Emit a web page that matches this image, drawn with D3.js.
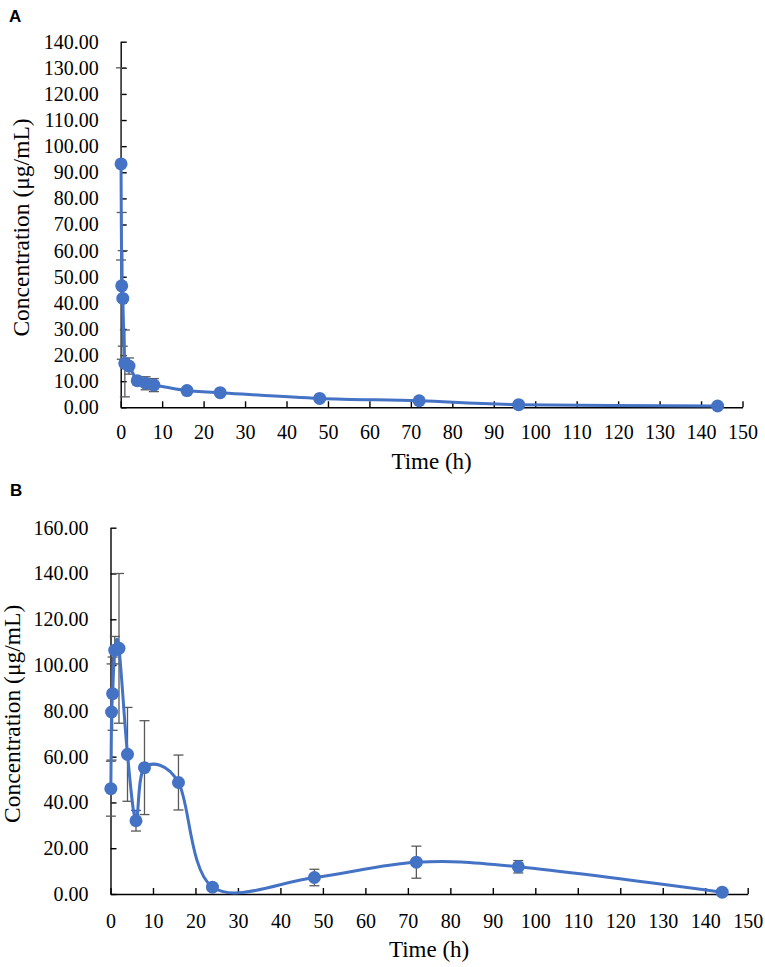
<!DOCTYPE html>
<html>
<head>
<meta charset="utf-8">
<script src="https://cdn.jsdelivr.net/npm/d3@7"></script>
<style>
body { margin: 0; background: #fff; }
</style>
</head>
<body>
<script>
// Panel A data (time h, mean, sd)
const timesA = [0.083, 0.25, 0.5, 1, 2, 4, 6, 8, 16, 24, 48, 72, 96, 144]
const meanA = [93.2, 46.5, 41.7, 16.8, 15.8, 10.2, 9.2, 8.5, 6.4, 5.6, 3.4, 2.5, 1.0, 0.5]
const sdA = [36.8, 28.1, 18.3, 12.8, 3.1, 1.5, 2.5, 2.5, 0.6, 0.5, 0.4, 0.5, 0.2, 0.1]

// Panel B data
const timesB = [0.083, 0.25, 0.5, 1, 2, 4, 6, 8, 16, 24, 48, 72, 96, 144]
const meanB = [46.0, 79.5, 87.5, 106.5, 107.3, 61.0, 32.0, 55.2, 48.7, 3.0, 7.2, 13.9, 11.9, 0.8]
const sdB = [12, 21, 16, 6, 32.7, 20.5, 4.5, 20.5, 12, 0.8, 3.6, 7, 2.7, 0.3]

const xTicks = d3.range(0, 151, 10)
const yTicksA = d3.range(0, 141, 10)
const yTicksB = d3.range(0, 161, 20)

const blue = '#4472C4'
const grey = '#595959'

const svg = d3.select('body').append('svg').attr('width', 765).attr('height', 967)

function drawPanel(p) {
	const x = d3.scaleLinear().domain([0, 150]).range([p.x0, p.x1])
	const y = d3.scaleLinear().domain([0, p.yMax]).range([p.y0, p.y1])
	const g = svg.append('g')

	const xAxis = d3.axisBottom(x).tickValues(xTicks).tickSizeInner(-6).tickSizeOuter(0).tickPadding(14)
	const yAxis = d3.axisLeft(y).tickValues(p.yTicks).tickSizeInner(-6).tickSizeOuter(0).tickPadding(22)
		.tickFormat(d3.format('.2f'))

	const gx = g.append('g').attr('transform', `translate(0,${p.y0})`).call(xAxis)
	const gy = g.append('g').attr('transform', `translate(${p.x0},0)`).call(yAxis)
	for (const ax of [gx, gy]) {
		ax.select('.domain').attr('stroke', '#000').attr('stroke-width', 1.4)
		ax.selectAll('.tick line').attr('stroke', '#000').attr('stroke-width', 1.4)
		ax.selectAll('.tick text').attr('font-family', 'Liberation Serif').attr('font-size', 20).attr('fill', '#000')
	}
	gx.selectAll('.tick text').attr('dy', '0.71em').attr('y', p.xLabOff)

	const rows = p.t.map((t, i) => ({ t, m: p.m[i], s: p.s[i] }))

	// error bars
	const eb = g.append('g').attr('stroke', grey).attr('stroke-width', 1.3)
	rows.forEach(d => {
		const cx = x(d.t)
		eb.append('line').attr('x1', cx).attr('x2', cx).attr('y1', y(d.m + d.s)).attr('y2', y(d.m - d.s))
		eb.append('line').attr('x1', cx - 5).attr('x2', cx + 5).attr('y1', y(d.m + d.s)).attr('y2', y(d.m + d.s))
		eb.append('line').attr('x1', cx - 5).attr('x2', cx + 5).attr('y1', y(d.m - d.s)).attr('y2', y(d.m - d.s))
	})

	const line = d3.line().x(d => x(d.t)).y(d => y(d.m)).curve(d3.curveCardinal.tension(0))
	g.append('path').datum(rows).attr('d', line)
		.attr('fill', 'none').attr('stroke', blue).attr('stroke-width', 3)

	g.selectAll('circle.pt').data(rows).enter().append('circle')
		.attr('cx', d => x(d.t)).attr('cy', d => y(d.m)).attr('r', 6.5).attr('fill', blue)

	g.append('text').attr('x', (p.x0 + p.x1) / 2).attr('y', p.titleY)
		.attr('text-anchor', 'middle').attr('font-family', 'Liberation Serif').attr('font-size', 23)
		.text('Time (h)')

	g.append('text').attr('transform', `translate(${p.yTitleX},${(p.y0 + p.y1) / 2 + 3}) rotate(-90)`)
		.attr('text-anchor', 'middle').attr('font-family', 'Liberation Serif').attr('font-size', 23.5)
		.text('Concentration (μg/mL)')

	g.append('text').attr('x', p.letterX).attr('y', p.letterY)
		.attr('font-family', 'Liberation Sans').attr('font-weight', 'bold').attr('font-size', 17)
		.text(p.letter)
}

drawPanel({ letter: 'A', letterX: 9, letterY: 22, t: timesA, m: meanA, s: sdA, yMax: 140, yTicks: yTicksA,
	x0: 120.7, x1: 742.5, y0: 407.3, y1: 41.7, xLabOff: 18, titleY: 469, yTitleX: 29 })
drawPanel({ letter: 'B', letterX: 10, letterY: 496, t: timesB, m: meanB, s: sdB, yMax: 160, yTicks: yTicksB,
	x0: 110.5, x1: 747.7, y0: 894, y1: 527.7, xLabOff: 20, titleY: 957, yTitleX: 20 })
</script>
</body>
</html>
